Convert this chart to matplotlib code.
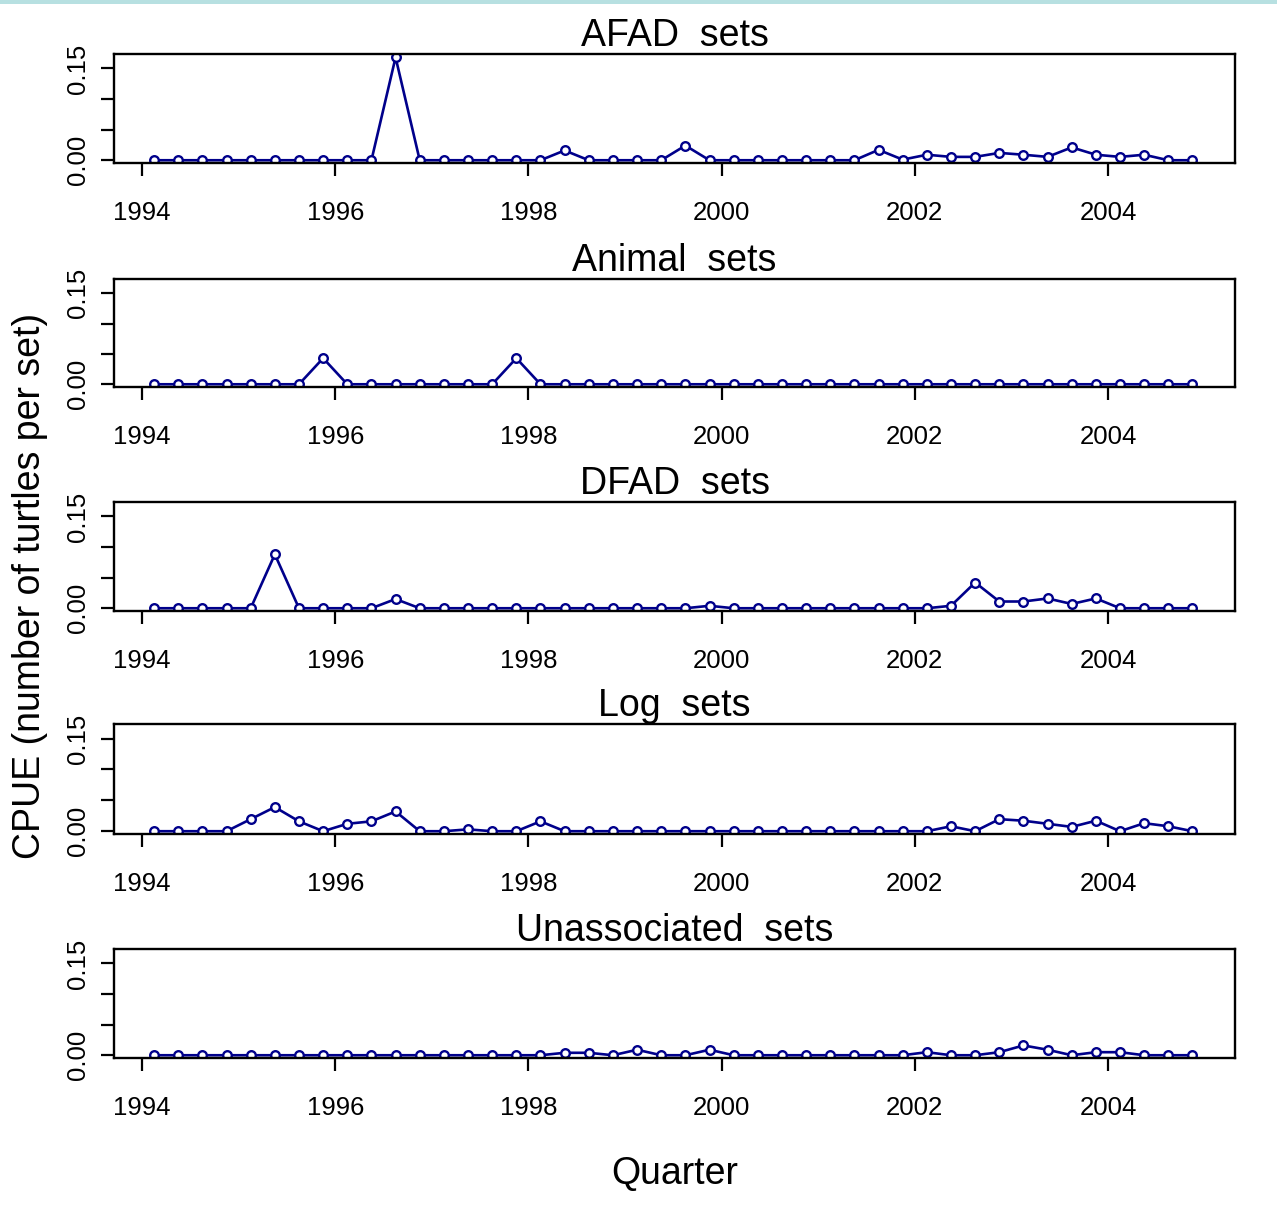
import matplotlib
matplotlib.use("Agg")
import matplotlib.pyplot as plt
from matplotlib.patches import Rectangle

plt.rcParams['font.family'] = ['Liberation Sans', 'DejaVu Sans']

# ---- data ----
years = list(range(1994, 2005))
quarters = [1, 2, 3, 4]
time = [y + (q - 0.5) / 4 for y in years for q in quarters]

panel_titles = ["AFAD  sets", "Animal  sets", "DFAD  sets", "Log  sets", "Unassociated  sets"]

afad = [0, 0, 0, 0, 0, 0, 0, 0, 0, 0,
        0.168, 0, 0, 0, 0, 0, 0, 0.016, 0, 0,
        0, 0, 0.024, 0, 0, 0, 0, 0, 0, 0,
        0.017, 0.001, 0.009, 0.0055, 0.0055, 0.012, 0.009, 0.0055, 0.021, 0.009,
        0.0055, 0.009, 0, 0]
animal = [0, 0, 0, 0, 0, 0, 0, 0.043, 0, 0,
          0, 0, 0, 0, 0, 0.043, 0, 0, 0, 0,
          0, 0, 0, 0, 0, 0, 0, 0, 0, 0,
          0, 0, 0, 0, 0, 0, 0, 0, 0, 0,
          0, 0, 0, 0]
dfad = [0, 0, 0, 0, 0, 0.088, 0, 0, 0, 0,
        0.015, 0, 0, 0, 0, 0, 0, 0, 0, 0,
        0, 0, 0, 0.004, 0, 0, 0, 0, 0, 0,
        0, 0, 0, 0.004, 0.042, 0.011, 0.011, 0.016, 0.007, 0.016,
        0, 0, 0, 0]
log_sets = [0, 0, 0, 0, 0.0195, 0.039, 0.016, 0, 0.012, 0.016,
            0.032, 0, 0, 0.003, 0, 0, 0.016, 0, 0, 0,
            0, 0, 0, 0, 0, 0, 0, 0, 0, 0,
            0, 0, 0, 0.008, 0, 0.0195, 0.017, 0.012, 0.007, 0.017,
            0, 0.013, 0.008, 0]
unassoc = [0, 0, 0, 0, 0, 0, 0, 0, 0, 0,
           0, 0, 0, 0, 0, 0, 0, 0.004, 0.004, 0,
           0.009, 0, 0, 0.009, 0, 0, 0, 0, 0, 0,
           0, 0, 0.005, 0, 0, 0.005, 0.016, 0.009, 0, 0.005,
           0.005, 0, 0, 0]
series = [afad, animal, dfad, log_sets, unassoc]

xticks = [1994, 1996, 1998, 2000, 2002, 2004]
xtick_labels = ["1994", "1996", "1998", "2000", "2002", "2004"]
yticks = [0.0, 0.05, 0.10, 0.15]
ytick_labels = ["0.00", "", "", "0.15"]

# ---- layout ----
W, H = 1277, 1212
fig = plt.figure(figsize=(W / 100, H / 100), dpi=100)
fig.patches.append(Rectangle((0, 1 - 4 / H), 1, 4 / H, transform=fig.transFigure,
                             facecolor='#b7e0e1', edgecolor='none'))

left_px, right_px = 114, 1235
tops = [54, 279, 502, 724, 949]
bottoms = [163, 387, 611, 834, 1058]

line_col = '#00008B'
xlim = (1993.71, 2005.315)

for i in range(5):
    ax = fig.add_axes([left_px / W, 1 - bottoms[i] / H,
                       (right_px - left_px) / W, (bottoms[i] - tops[i]) / H])
    ax.plot(time, series[i], color=line_col, lw=1.9, marker='o', ms=6.2,
            mfc='white', mec=line_col, mew=1.7)
    ax.set_xlim(*xlim)
    ax.set_ylim(-0.0045, 0.1735)
    ax.set_xticks(xticks)
    ax.set_xticklabels(xtick_labels)
    ax.set_yticks(yticks)
    ax.set_yticklabels(ytick_labels, rotation=90, va='center')
    ax.tick_params(axis='x', length=9, width=1.6, pad=18.5, labelsize=18.5)
    ax.tick_params(axis='y', length=9.5, width=1.6, pad=8, labelsize=18.5)
    for s in ax.spines.values():
        s.set_linewidth(1.7)
    ax.set_title(panel_titles[i], fontsize=27, pad=4.5)

fig.text(30 / W, 1 - 586 / H, "CPUE (number of turtles per set)", rotation=90,
         ha='center', va='center', fontsize=27)
fig.text(675 / W, 1 - 1174 / H, "Quarter", ha='center', va='center', fontsize=27)

fig.savefig("out.png", dpi=100)
